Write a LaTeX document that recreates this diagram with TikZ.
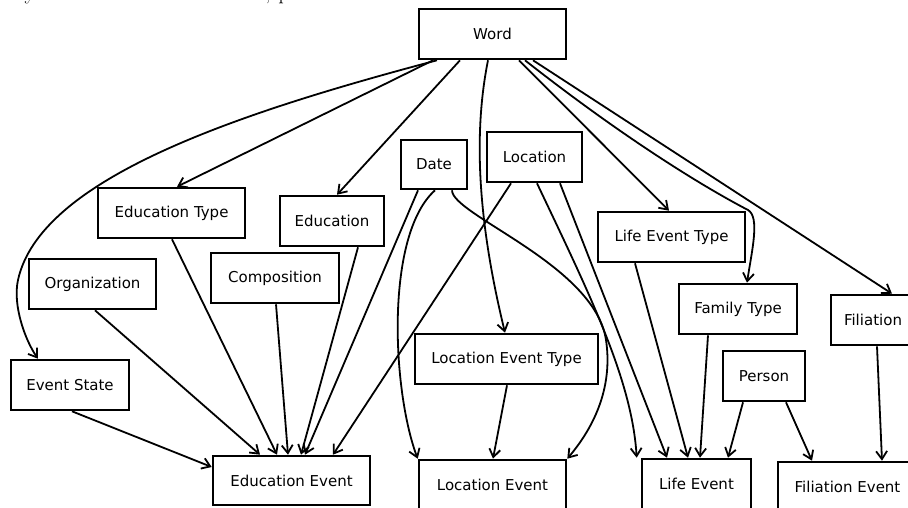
\documentclass[tikz,border=0pt]{standalone}
\usepackage{fontspec}
\setsansfont{DejaVu Sans}
\usetikzlibrary{arrows.meta}
\begin{document}
\begin{tikzpicture}[x=1pt,y=-1pt,
  box/.style={draw, line width=2.6pt, rectangle, inner sep=0pt,
    minimum height=50pt, font=\sffamily\fontsize{15}{18}\selectfont},
  edge/.style={line width=1.8pt, -{Straight Barb[length=8pt,width=11pt]}},
  frag/.style={inner sep=0pt, anchor=base, font=\fontsize{22}{24}\selectfont}]
\useasboundingbox (0,0) rectangle (908,508);
\clip (0,0) rectangle (908,508);

% descenders of a text line above the chart
\node[frag] (fragy) at (30,0) {y};
\node[frag] (fragc) at (268,0) {,};
\node[frag] (fragp) at (284,0) {p};

% entity boxes
\node[box, minimum width=147pt] (word) at (492.5,34) {Word};
\node[box, minimum width=66pt, minimum height=49pt] (date) at (434,164.5) {Date};
\node[box, minimum width=95pt] (location) at (534.5,157) {Location};
\node[box, minimum width=147pt] (edtype) at (171.5,213) {Education Type};
\node[box, minimum width=104pt] (education) at (332,221) {Education};
\node[box, minimum width=147pt] (letype) at (671.5,237) {Life Event Type};
\node[box, minimum width=127pt] (org) at (92.5,284) {Organization};
\node[box, minimum width=128pt] (comp) at (275,278) {Composition};
\node[box, minimum width=118pt] (evstate) at (70,385) {Event State};
\node[box, minimum width=157pt, minimum height=49pt] (edevent) at (291.5,480.5) {Education Event};
\node[box, minimum width=183pt] (loctype) at (506.5,359) {Location Event Type};
\node[box, minimum width=147pt] (locevent) at (492.5,485) {Location Event};
\node[box, minimum width=109pt] (lifeevent) at (696.5,484) {Life Event};
\node[box, minimum width=139pt] (filevent) at (847.5,487) {Filiation Event};
\node[box, minimum width=118pt] (famtype) at (738,309) {Family Type};
\node[box, minimum width=82pt] (person) at (764,376) {Person};
\node[box, minimum width=84pt] (filiation) at (873,320) {Filiation};

% edges from Word
\draw[edge] ([xshift=-55.5pt]word.south) .. controls (230,115) and (40,180) .. (18,280)
  .. controls (12.5,305) and (25,340) .. ([xshift=-32pt]evstate.north);
\draw[edge] ([xshift=-59.5pt]word.south) -- ([xshift=5.5pt]edtype.north);
\draw[edge] ([xshift=-32.5pt]word.south) -- ([xshift=5pt]education.north);
\draw[edge] ([xshift=-4.5pt]word.south) .. controls (472,140) and (480,230) .. ([xshift=-1.5pt]loctype.north);
\draw[edge] ([xshift=26.5pt]word.south) -- ([xshift=-2.5pt]letype.north);
\draw[edge] ([xshift=32.5pt]word.south) .. controls (620,135) and (700,185) .. (748,210)
  .. controls (760,217) and (752,250) .. ([xshift=9pt]famtype.north);
\draw[edge] ([xshift=40.5pt]word.south) -- ([xshift=19pt]filiation.north);

% edges from Date
\draw[edge] ([xshift=-16pt]date.south) -- ([xshift=13.5pt]edevent.north);
\draw[edge] ([xshift=1pt]date.south) .. controls (385,235) and (392,390) .. (locevent.north west);
\draw[edge] ([xshift=18pt]date.south) .. controls (452,215) and (595,265) .. (606,340)
  .. controls (612,380) and (600,420) .. (locevent.north east);

% edges from Location
\draw[edge] ([xshift=-23.5pt]location.south) -- ([xshift=41.5pt]edevent.north);
\draw[edge] ([xshift=2.5pt]location.south) .. controls (590,295) and (632,380) .. ([xshift=-4pt]lifeevent.north west);
\draw[edge] ([xshift=25.5pt]location.south) -- ([xshift=-29.5pt]lifeevent.north);

% remaining edges
\draw[edge] ([xshift=0.5pt]loctype.south) -- ([xshift=0.5pt]locevent.north);
\draw[edge] ([xshift=-36.5pt]letype.south) -- ([xshift=-8.5pt]lifeevent.north);
\draw[edge] ([xshift=-30pt]famtype.south) -- ([xshift=3.5pt]lifeevent.north);
\draw[edge] ([xshift=-21pt]person.south) -- ([xshift=31.5pt]lifeevent.north);
\draw[edge] ([xshift=22pt]person.south) -- ([xshift=-35.5pt]filevent.north);
\draw[edge] ([xshift=4pt]filiation.south) -- ([xshift=34.5pt]filevent.north);
\draw[edge] ([xshift=2pt]evstate.south) -- ([yshift=13.5pt]edevent.west);
\draw[edge] ([xshift=2.5pt]org.south) -- ([xshift=-31.5pt]edevent.north);
\draw[edge] ([xshift=0.5pt]edtype.south) -- ([xshift=-14.5pt]edevent.north);
\draw[edge] ([xshift=1pt]comp.south) -- ([xshift=-3.5pt]edevent.north);
\draw[edge] ([xshift=26pt]education.south) -- ([xshift=9.5pt]edevent.north);
\end{tikzpicture}
\end{document}
